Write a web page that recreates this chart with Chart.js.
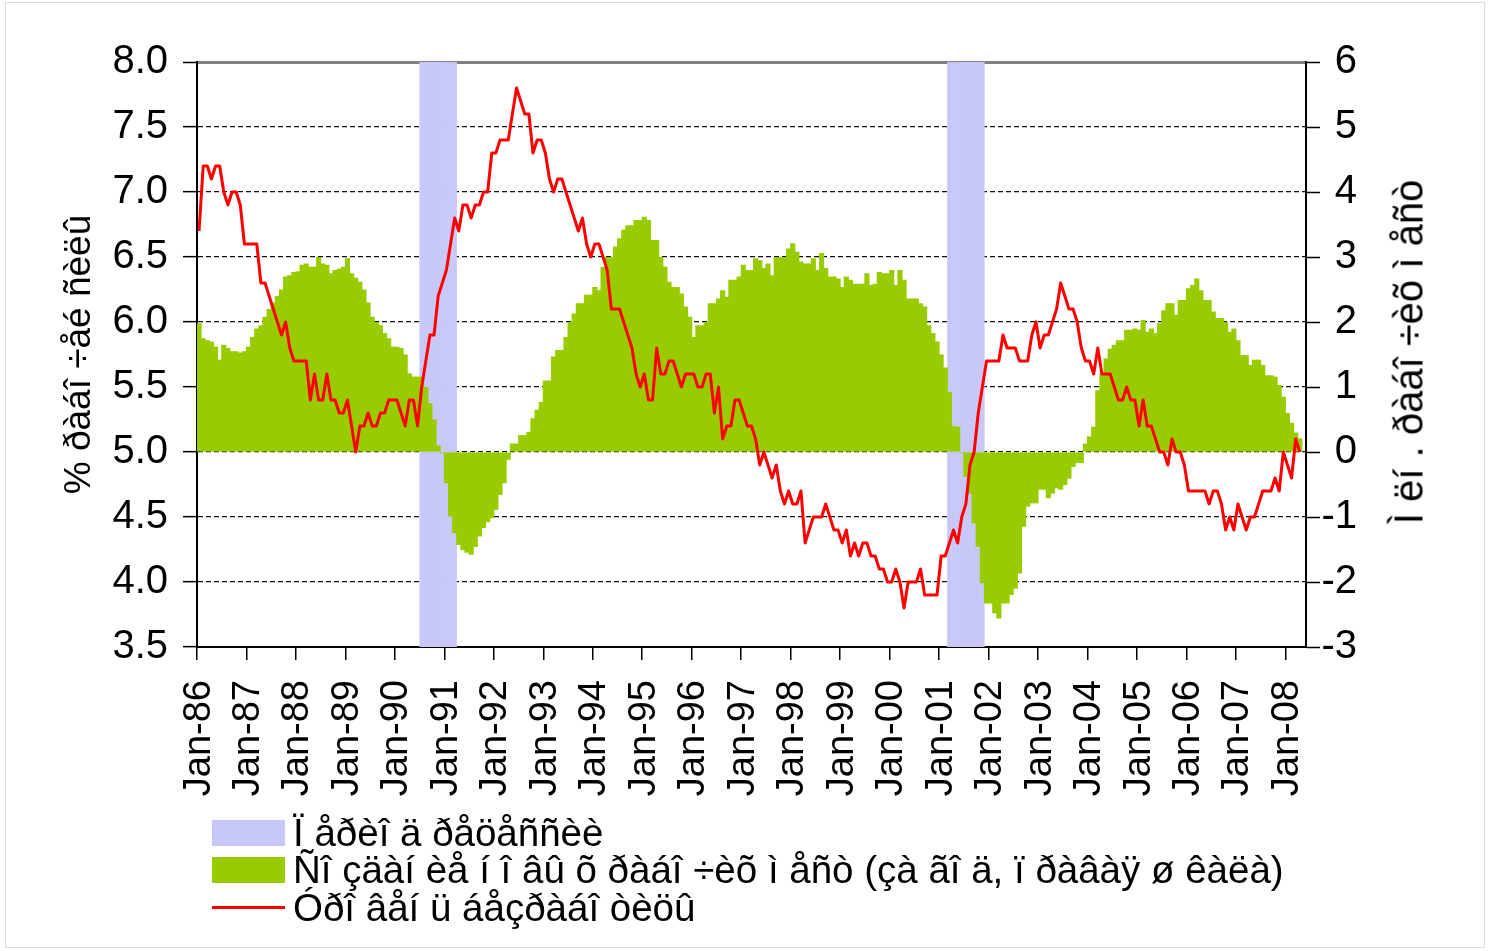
<!DOCTYPE html>
<html>
<head>
<meta charset="utf-8">
<script src="https://cdn.jsdelivr.net/npm/chart.js@4.4.1/dist/chart.umd.min.js"></script>
<style>
  body { margin: 0; background: #fff; }
  #wrap { position: relative; width: 1489px; height: 951px; font-family: "Liberation Sans", Arial, sans-serif; color: #000; }
  #frame { position: absolute; left: 5px; top: 2px; width: 1480px; height: 946px; border: 1px solid #dcdcdc; box-sizing: border-box; pointer-events: none; }
  #ytitle2 { position: absolute; left: 1409px; top: 352px; transform: translate(-50%, -50%) rotate(-90deg); font-size: 40px; white-space: nowrap; }
  .legend-row { position: absolute; left: 212px; height: 37px; display: flex; align-items: center; font-size: 38.5px; white-space: nowrap; }
  .swatch { width: 73px; height: 26px; margin-right: 8px; }
  .swline { width: 73px; height: 3px; background: #ff0000; margin-right: 8px; }
</style>
</head>
<body>
<div id="wrap">
  <canvas id="chart" width="1489" height="951"></canvas>
  <div id="ytitle2">Ì ëí . ðàáî ÷èõ ì åñò</div>
  <div class="legend-row" style="top:814px"><div class="swatch" style="background:#c8c8f8"></div>Ï åðèî ä ðåöåññèè</div>
  <div class="legend-row" style="top:851px"><div class="swatch" style="background:#99cc00"></div>Ñî çäàí èå í î âû õ ðàáî ÷èõ ì åñò (çà ãî ä, ï ðàâàÿ ø êàëà)</div>
  <div class="legend-row" style="top:889px"><div class="swline"></div>Óðî âåí ü áåçðàáî òèöû</div>
  <div id="frame"></div>
</div>
<script>
const monthNames = ['Jan', 'Feb', 'Mar', 'Apr', 'May', 'Jun', 'Jul', 'Aug', 'Sep', 'Oct', 'Nov', 'Dec'];
const firstYear = 1986;
const monthCount = 269; // Jan-86 .. May-08, last month has no data

// unemployment rate, % of labour force (left axis)
const unemployment = [
  6.7, 7.2, 7.2, 7.1, 7.2, 7.2, 7.0, 6.9, 7.0, 7.0, 6.9, 6.6, // 86
  6.6, 6.6, 6.6, 6.3, 6.3, 6.2, 6.1, 6.0, 5.9, 6.0, 5.8, 5.7, // 87
  5.7, 5.7, 5.7, 5.4, 5.6, 5.4, 5.4, 5.6, 5.4, 5.4, 5.3, 5.3, // 88
  5.4, 5.2, 5.0, 5.2, 5.2, 5.3, 5.2, 5.2, 5.3, 5.3, 5.4, 5.4, // 89
  5.4, 5.3, 5.2, 5.4, 5.4, 5.2, 5.5, 5.7, 5.9, 5.9, 6.2, 6.3, // 90
  6.4, 6.6, 6.8, 6.7, 6.9, 6.9, 6.8, 6.9, 6.9, 7.0, 7.0, 7.3, // 91
  7.3, 7.4, 7.4, 7.4, 7.6, 7.8, 7.7, 7.6, 7.6, 7.3, 7.4, 7.4, // 92
  7.3, 7.1, 7.0, 7.1, 7.1, 7.0, 6.9, 6.8, 6.7, 6.8, 6.6, 6.5, // 93
  6.6, 6.6, 6.5, 6.4, 6.1, 6.1, 6.1, 6.0, 5.9, 5.8, 5.6, 5.5, // 94
  5.6, 5.4, 5.4, 5.8, 5.6, 5.6, 5.7, 5.7, 5.6, 5.5, 5.6, 5.6, // 95
  5.6, 5.5, 5.5, 5.6, 5.6, 5.3, 5.5, 5.1, 5.2, 5.2, 5.4, 5.4, // 96
  5.3, 5.2, 5.2, 5.1, 4.9, 5.0, 4.9, 4.8, 4.9, 4.7, 4.6, 4.7, // 97
  4.6, 4.6, 4.7, 4.3, 4.4, 4.5, 4.5, 4.5, 4.6, 4.5, 4.4, 4.4, // 98
  4.3, 4.4, 4.2, 4.3, 4.2, 4.3, 4.3, 4.2, 4.2, 4.1, 4.1, 4.0, // 99
  4.0, 4.1, 4.0, 3.8, 4.0, 4.0, 4.0, 4.1, 3.9, 3.9, 3.9, 3.9, // 00
  4.2, 4.2, 4.3, 4.4, 4.3, 4.5, 4.6, 4.9, 5.0, 5.3, 5.5, 5.7, // 01
  5.7, 5.7, 5.7, 5.9, 5.8, 5.8, 5.8, 5.7, 5.7, 5.7, 5.9, 6.0, // 02
  5.8, 5.9, 5.9, 6.0, 6.1, 6.3, 6.2, 6.1, 6.1, 6.0, 5.8, 5.7, // 03
  5.7, 5.6, 5.8, 5.6, 5.6, 5.6, 5.5, 5.4, 5.4, 5.5, 5.4, 5.4, // 04
  5.2, 5.4, 5.2, 5.2, 5.1, 5.0, 5.0, 4.9, 5.1, 5.0, 5.0, 4.9, // 05
  4.7, 4.7, 4.7, 4.7, 4.7, 4.6, 4.7, 4.7, 4.6, 4.4, 4.5, 4.4, // 06
  4.6, 4.5, 4.4, 4.5, 4.5, 4.6, 4.7, 4.7, 4.7, 4.8, 4.7, 5.0, // 07
  4.9, 4.8, 5.1, 5.0, null                                    // 08
];

// jobs created over the year, millions (right axis)
const newJobs = [
  1.98, 1.75, 1.72, 1.70, 1.62, 1.42, 1.65, 1.60, 1.55, 1.55, 1.53, 1.55,
  1.62, 1.77, 1.90, 1.95, 2.08, 2.20, 2.30, 2.40, 2.50, 2.70, 2.72, 2.77,
  2.78, 2.88, 2.90, 2.85, 2.85, 3.00, 2.90, 2.88, 2.75, 2.80, 2.82, 2.85,
  2.98, 2.75, 2.68, 2.62, 2.50, 2.30, 2.08, 2.00, 1.95, 1.83, 1.75, 1.62,
  1.62, 1.60, 1.50, 1.21, 1.16, 1.16, 1.16, 1.00, 0.75, 0.50, 0.10, -0.02,
  -0.48, -0.99, -1.25, -1.43, -1.51, -1.55, -1.58, -1.46, -1.30, -1.17, -1.08, -1.02,
  -0.89, -0.66, -0.48, -0.12, 0.13, 0.13, 0.26, 0.26, 0.31, 0.52, 0.65, 0.77,
  1.10, 1.10, 1.47, 1.57, 1.57, 1.77, 2.00, 2.13, 2.29, 2.29, 2.42, 2.42,
  2.54, 2.49, 2.85, 3.00, 3.00, 3.16, 3.29, 3.42, 3.49, 3.49, 3.57, 3.57,
  3.62, 3.57, 3.26, 3.26, 3.00, 2.85, 2.62, 2.54, 2.54, 2.44, 2.24, 2.08,
  1.77, 1.95, 1.95, 2.00, 2.29, 2.29, 2.36, 2.49, 2.39, 2.65, 2.65, 2.70,
  2.88, 2.80, 2.80, 2.98, 2.95, 2.83, 2.90, 2.72, 3.00, 3.00, 3.00, 3.13,
  3.21, 3.08, 2.93, 2.90, 2.90, 2.98, 2.80, 3.06, 2.83, 2.70, 2.70, 2.67,
  2.54, 2.70, 2.65, 2.59, 2.59, 2.59, 2.75, 2.57, 2.59, 2.77, 2.75, 2.75,
  2.80, 2.57, 2.80, 2.65, 2.36, 2.36, 2.36, 2.29, 2.24, 1.95, 1.83, 1.70,
  1.50, 1.30, 0.92, 0.40, 0.39, -0.02, -0.38, -0.64, -1.10, -1.46, -2.02, -2.33,
  -2.33, -2.48, -2.56, -2.33, -2.33, -2.20, -2.10, -1.87, -1.15, -0.84, -0.79, -0.79,
  -0.58, -0.58, -0.71, -0.64, -0.56, -0.58, -0.51, -0.41, -0.23, -0.17, -0.17, 0.13,
  0.24, 0.39, 0.95, 1.21, 1.44, 1.59, 1.65, 1.72, 1.72, 1.88, 1.88, 1.90,
  1.88, 2.03, 1.85, 1.90, 1.83, 1.98, 2.18, 2.29, 2.29, 2.11, 2.34, 2.34,
  2.52, 2.57, 2.67, 2.49, 2.34, 2.34, 2.16, 2.06, 2.06, 2.00, 1.85, 1.90,
  1.72, 1.49, 1.49, 1.34, 1.42, 1.42, 1.34, 1.18, 1.18, 1.16, 1.03, 0.85,
  0.60, 0.45, 0.30, 0.21, null
];

// recession periods, first and last month
const recessions = [['Jul-90', 'Mar-91'], ['Mar-01', 'Nov-01']];

const leftTicks = { min: 3.5, max: 8.0, step: 0.5 };
const rightTicks = { min: -3, max: 6, step: 1 };

const labels = [];
for (let i = 0; i < monthCount; i++) {
  const yr = firstYear + Math.floor(i / 12);
  labels.push(monthNames[i % 12] + '-' + String(yr).slice(2));
}

const recessionBars = labels.map(() => null);
for (const [from, to] of recessions) {
  for (let i = labels.indexOf(from); i <= labels.indexOf(to); i++) recessionBars[i] = 1;
}

const fontFamily = '"Liberation Sans", Arial, sans-serif';
const tickFont = { family: fontFamily, size: 38 };
const yTickFont = { family: fontFamily, size: 40 };

new Chart(document.getElementById('chart'), {
  type: 'bar',
  data: {
    labels: labels,
    datasets: [
      {
        type: 'line',
        label: 'Óðî âåí ü áåçðàáî òèöû',
        data: unemployment,
        yAxisID: 'y',
        borderColor: '#ff0000',
        borderWidth: 3,
        pointRadius: 0,
        tension: 0,
        borderJoinStyle: 'round',
        order: 0
      },
      {
        label: 'Ñî çäàí èå í î âû õ ðàáî ÷èõ ì åñò',
        data: newJobs,
        yAxisID: 'y2',
        backgroundColor: '#99cc00',
        barPercentage: 1.25,
        categoryPercentage: 1,
        grouped: false,
        order: 1
      },
      {
        label: 'Ï åðèî ä ðåöåññèè',
        data: recessionBars,
        yAxisID: 'yr',
        backgroundColor: '#c8c8f8',
        barPercentage: 1.1,
        categoryPercentage: 1,
        grouped: false,
        order: 2
      }
    ]
  },
  options: {
    responsive: false,
    animation: false,
    devicePixelRatio: 1,
    layout: { padding: { left: 0, right: 132, top: 62, bottom: 144 } },
    plugins: { legend: { display: false }, tooltip: { enabled: false } },
    scales: {
      x: {
        grid: {
          drawOnChartArea: false,
          offset: true,
          tickLength: 13,
          lineWidth: 1.5,
          color: (c) => (c.index % 12 === 0 ? '#000' : 'rgba(0,0,0,0)')
        },
        border: { color: '#000', width: 2 },
        ticks: {
          autoSkip: false,
          minRotation: 90,
          maxRotation: 90,
          padding: 20,
          color: '#000',
          font: tickFont,
          callback: function (v, i) { return i % 12 === 0 ? this.getLabelForValue(v) : ''; }
        },
        afterFit: (s) => { s.height = 160; }
      },
      y: {
        position: 'left',
        min: leftTicks.min,
        max: leftTicks.max,
        ticks: {
          stepSize: leftTicks.step,
          padding: 15,
          color: '#000',
          font: yTickFont,
          callback: (v) => v.toFixed(1)
        },
        grid: {
          tickLength: 14,
          tickColor: '#000',
          tickWidth: 1.5,
          color: (c) => {
            if (!c.tick) return '#000';
            if (c.tick.value === leftTicks.max) return '#808080';
            if (c.tick.value === leftTicks.min) return 'rgba(0,0,0,0)';
            return '#111';
          },
          lineWidth: (c) => (c.tick && c.tick.value === leftTicks.max ? 3 : 1.3)
        },
        border: {
          display: true,
          color: '#000',
          width: 2,
          dash: (c) => (c.tick && c.tick.value === leftTicks.max ? [] : [5, 3])
        },
        title: {
          display: true,
          text: '% ðàáî ÷åé ñèëû',
          color: '#000',
          font: { family: fontFamily, size: 37 },
          padding: { top: 58, bottom: 0 }
        },
        afterFit: (s) => { s.width = 197; }
      },
      y2: {
        position: 'right',
        min: rightTicks.min,
        max: rightTicks.max,
        ticks: {
          stepSize: rightTicks.step,
          crossAlign: 'far',
          color: '#000',
          font: yTickFont
        },
        grid: {
          drawOnChartArea: false,
          tickLength: 14,
          tickColor: '#000',
          tickWidth: 1.5
        },
        border: { display: true, color: '#000', width: 2 },
        afterFit: (s) => { s.width = 51; }
      },
      yr: { display: false, min: 0, max: 1 }
    }
  }
});
</script>
</body>
</html>
